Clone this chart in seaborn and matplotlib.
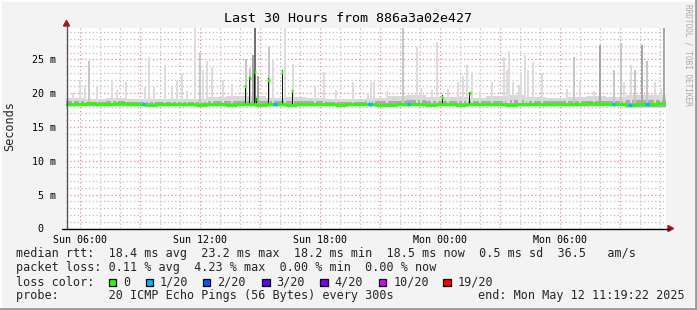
import numpy as np
import matplotlib
matplotlib.use("Agg")
import matplotlib.pyplot as plt
from matplotlib.lines import Line2D
from matplotlib.patches import Rectangle, Polygon
import seaborn as sns

sns.set_theme(style="white")
plt.rcParams['font.family'] = ['DejaVu Sans Mono']

# ---------------- data ----------------
t_start = 5 + 19/60 + 22/3600          # Sun 05:19:22 (hours since Sun 00:00)
t_end = t_start + 30
step_h = 1/12                          # 300 s

x_tick_hours = [6, 12, 18, 24, 30]
x_tick_labels = ["Sun 06:00", "Sun 12:00", "Sun 18:00", "Mon 00:00", "Mon 06:00"]
y_tick_vals = [0, 5, 10, 15, 20, 25]
y_tick_labels = ["0  ", "5 m", "10 m", "15 m", "20 m", "25 m"]

# median rtt (ms), half-hourly baseline
median_base = [18.4, 18.4, 18.5, 18.4, 18.4, 18.5, 18.4, 18.4, 18.3, 18.4,
               18.4, 18.4, 18.4, 18.3, 18.4, 18.4, 18.3, 18.4, 18.4, 18.3,
               18.4, 18.4, 18.3, 18.4, 18.4, 18.4, 18.4, 18.3, 18.4, 18.4,
               18.4, 18.3, 18.3, 18.4, 18.4, 18.4, 18.3, 18.4, 18.4, 18.3,
               18.4, 18.4, 18.4, 18.4, 18.3, 18.4, 18.4, 18.4, 18.4, 18.4,
               18.4, 18.4, 18.5, 18.4, 18.4, 18.4, 18.3, 18.4, 18.4, 18.5]
# smoke envelope of the baseline, hourly
smoke_lo = [17.9, 17.9, 17.9, 17.9, 17.9, 17.9, 17.9, 17.9, 17.9, 17.9,
            17.9, 17.9, 17.9, 17.9, 17.9, 17.9, 17.9, 17.9, 17.9, 17.9,
            17.9, 17.9, 17.9, 17.9, 17.9, 17.9, 17.9, 17.9, 17.8, 17.8]
smoke_hi = [19.3, 19.2, 19.3, 19.2, 19.2, 19.1, 19.2, 19.4, 19.6, 19.6,
            19.3, 19.4, 19.3, 19.2, 19.2, 19.3, 19.6, 19.8, 19.5, 19.4,
            19.3, 19.6, 19.7, 19.4, 19.3, 19.4, 19.6, 19.5, 19.8, 19.7]
smoke_mid_hi = [18.8, 18.7, 18.8, 18.7, 18.7, 18.7, 18.7, 18.8, 18.9, 18.9,
                18.8, 18.8, 18.8, 18.7, 18.7, 18.8, 18.9, 19.0, 18.9, 18.8,
                18.8, 18.9, 19.0, 18.8, 18.8, 18.8, 18.9, 18.9, 19.0, 19.0]

# outlier pings (smoke spikes): clock hour, top (ms), shade level
spike_hours = [5.68, 6.00, 6.25, 6.48, 6.85, 7.60, 7.85, 8.30, 9.25, 9.45,
               9.70, 10.25, 10.60, 10.85, 11.10, 11.35, 11.75, 12.00, 12.15, 12.35,
               12.60, 13.15, 13.60, 14.30, 14.50, 14.65, 14.75, 14.90, 15.45, 15.65,
               16.25, 16.65, 17.75, 18.20, 18.80, 19.65, 20.40, 20.55, 20.70, 21.35,
               22.15, 22.85, 23.05, 23.60, 23.85, 24.40, 24.90, 25.15, 25.35, 25.60,
               26.00, 26.60, 27.20, 27.35, 27.45, 27.65, 27.95, 28.05, 28.25, 28.40,
               28.65, 29.10, 30.35, 30.70, 31.00, 31.70, 32.00, 32.70, 33.05, 33.20,
               33.55, 33.75, 34.10, 34.35, 34.75, 35.05, 35.20]
spike_tops = [20.0, 21.9, 21.2, 24.7, 20.9, 22.0, 20.4, 21.6, 20.9, 25.3,
              20.9, 24.1, 20.9, 22.0, 22.8, 20.3, 29.6, 26.0, 23.5, 24.8,
              23.8, 21.9, 21.3, 25.0, 23.7, 25.7, 29.6, 22.5, 26.8, 25.0,
              29.6, 24.3, 20.9, 23.1, 20.5, 21.6, 20.0, 21.6, 21.6, 20.3,
              29.6, 26.8, 20.7, 20.5, 27.5, 20.6, 21.6, 22.6, 24.2, 23.2,
              20.3, 21.6, 25.3, 23.5, 26.3, 21.6, 21.2, 23.1, 25.7, 23.5,
              24.6, 23.0, 20.6, 25.3, 21.6, 20.3, 27.2, 23.4, 27.4, 21.6,
              24.1, 23.4, 27.2, 24.7, 21.6, 20.6, 29.6]
spike_shades = [0, 0, 0, 1, 0, 0, 0, 0, 0, 0,
                0, 0, 0, 0, 0, 0, 0, 1, 0, 0,
                0, 0, 0, 1, 1, 2, 3, 2, 1, 0,
                0, 0, 0, 0, 0, 0, 0, 0, 0, 0,
                1, 0, 0, 0, 0, 0, 0, 0, 0, 0,
                0, 0, 0, 0, 0, 0, 0, 0, 0, 0,
                0, 0, 0, 1, 0, 0, 2, 1, 1, 0,
                0, 1, 2, 1, 0, 0, 2]

# steps where most pings were high (dark smoke + raised median)
dark_hours = [14.30, 14.50, 14.75, 14.85, 15.45, 16.15, 16.65, 24.15, 25.50]
dark_tops = [21.0, 22.2, 23.1, 19.1, 22.0, 23.2, 20.3, 19.5, 20.0]

# steps with 1/20 packet loss
loss_hours = [9.20, 15.80, 20.55, 22.45, 32.70, 33.55, 34.35]

loss_colors = ["#26ff00", "#00b8ff", "#0059ff", "#5e00ff", "#7e00ff", "#dd00ff", "#ff0000"]
loss_labels = ["0", "1/20", "2/20", "3/20", "4/20", "10/20", "19/20"]

legend_line1 = "median rtt:  18.4 ms avg  23.2 ms max  18.2 ms min  18.5 ms now  0.5 ms sd  36.5   am/s"
legend_line2 = "packet loss: 0.11 % avg  4.23 % max  0.00 % min  0.00 % now"
legend_line3 = "loss color:"
legend_line4 = "probe:       20 ICMP Echo Pings (56 Bytes) every 300s"
legend_end = "end: Mon May 12 11:19:22 2025"
title = "Last 30 Hours from 886a3a02e427"

# ---------------- derived series ----------------
N = 360
times = t_start + (np.arange(N) + 0.5) * step_h
median_line = np.array([median_base[k // 6] for k in range(N)], dtype=float)
median = median_line.copy()
spike_idx = []
for h, v in zip(dark_hours, dark_tops):
    k = int(round((h - t_start) / step_h - 0.5))
    median[k] = v
    spike_idx.append(k)
hour_t = t_start + np.arange(31)
lo_step = np.array(smoke_lo + [smoke_lo[-1]])
hi_step = np.array(smoke_hi + [smoke_hi[-1]])
mid_step = np.array(smoke_mid_hi + [smoke_mid_hi[-1]])

# ---------------- figure ----------------
W, H = 697, 310
fig = plt.figure(figsize=(W/100, H/100), dpi=100)
fig.patch.set_facecolor("#f3f3f3")

x0, x1 = 66, 666
y0, y1 = 228.3, 28.3
ax = fig.add_axes([x0/W, 1 - y0/H, (x1-x0)/W, (y0-y1)/H])
ax.set_facecolor("white")
ax.set_xlim(t_start, t_end)
ax.set_ylim(0, 29.6)

# grid
major_x = np.arange(6, 36, 3)
ax.set_xticks(major_x)
ax.set_xticks(np.arange(6, 36, 1), minor=True)
ax.set_yticks(y_tick_vals)
ax.set_yticks(np.arange(0, 30, 1), minor=True)
ax.grid(which="minor", color="#bcbcbc", linestyle=(0, (1, 2)), linewidth=0.9, zorder=0)
ax.grid(which="major", color="#e58a8a", linestyle=(0, (1, 2)), linewidth=0.9, zorder=0)
ax.set_axisbelow(True)

shade_cols = ["#dcdcdc", "#c6c6c6", "#a6a6a6", "#707070"]

# baseline smoke
ax.fill_between(hour_t, lo_step, hi_step, step="post", color="#d8d8d8", linewidth=0, zorder=2)
ax.fill_between(hour_t, lo_step + 0.15, mid_step, step="post", color="#ababab", linewidth=0, zorder=2)

# spikes
for h, top, s in zip(spike_hours, spike_tops, spike_shades):
    ax.bar(h, top - 18.6, bottom=18.6, width=0.1, color=shade_cols[s], linewidth=0, zorder=3)
ax.bar(dark_hours, np.array(dark_tops) + 0.2 - 18.4, bottom=18.4, width=0.09,
       color="#151515", linewidth=0, zorder=4)

# median line (baseline) and raised-median marks
sns.lineplot(x=times, y=median_line, ax=ax, color=loss_colors[0], linewidth=2.0,
             drawstyle="steps-mid", zorder=5, legend=False)
for k in spike_idx:
    ax.hlines(median[k], times[k] - 0.05, times[k] + 0.05, color=loss_colors[0],
              linewidth=2.4, zorder=6)
for h in loss_hours:
    k = int(round((h - t_start) / step_h - 0.5))
    ax.hlines(median[k], times[k] - 0.09, times[k] + 0.09, color=loss_colors[1],
              linewidth=2.4, zorder=6)

# axes styling
for sp in ax.spines.values():
    sp.set_visible(False)
ax.set_xticklabels([x_tick_labels[x_tick_hours.index(v)] if v in x_tick_hours else ""
                    for v in major_x])
ax.set_yticklabels(y_tick_labels)
ax.tick_params(axis="both", which="major", length=3, width=0.8, color="#444444",
               labelsize=7.2, labelcolor="black")
ax.tick_params(axis="x", which="major", pad=3, direction="inout")
ax.tick_params(axis="y", which="major", pad=4, direction="out")
ax.tick_params(axis="both", which="minor", length=0)
ax.set_xlabel("")
ax.set_ylabel("")

# axis lines with arrows (figure pixel coords)
def fx(px): return px / W
def fy(py): return 1 - py / H
fig.add_artist(Line2D([fx(66.5), fx(66.5)], [fy(228.5), fy(25)], color="#505050", lw=1))
fig.add_artist(Line2D([fx(62), fx(669)], [fy(228.5), fy(228.5)], color="black", lw=1))
fig.add_artist(Polygon([[fx(63.5), fy(26)], [fx(69.5), fy(26)], [fx(66.5), fy(20.5)]],
                       closed=True, color="#a01818", transform=fig.transFigure))
fig.add_artist(Polygon([[fx(668), fy(225.5)], [fx(668), fy(231.5)], [fx(673.5), fy(228.5)]],
                       closed=True, color="#a01818", transform=fig.transFigure))

# texts
fig.text(fx(348), fy(19), title, ha="center", va="center", fontsize=9.6, color="black")
fig.text(fx(10), fy(126), "Seconds", rotation=90, ha="center", va="center", fontsize=8.6)
fig.text(fx(688), fy(4), "RRDTOOL / TOBI OETIKER", rotation=270, ha="center", va="top",
         fontsize=5.6, color="#aaaaaa")

fs = 8.45
fig.text(fx(16), fy(254), legend_line1, ha="left", va="center", fontsize=fs)
fig.text(fx(16), fy(268), legend_line2, ha="left", va="center", fontsize=fs)
fig.text(fx(16), fy(282), legend_line3, ha="left", va="center", fontsize=fs)
fig.text(fx(16), fy(296), legend_line4, ha="left", va="center", fontsize=fs)
fig.text(fx(478), fy(296), legend_end, ha="left", va="center", fontsize=fs)

sq_x = [108.7, 145.7, 202.7, 262, 320, 379, 443]
for sx, col, lab in zip(sq_x, loss_colors, loss_labels):
    fig.add_artist(Rectangle((fx(sx), fy(286)), 7.5/W, 7.5/H, facecolor=col,
                             edgecolor="black", linewidth=0.9, transform=fig.transFigure))
    fig.text(fx(sx + 14.3), fy(282), lab, ha="left", va="center", fontsize=fs)

# 3D frame
fig.add_artist(Line2D([fx(0.5), fx(696.5)], [fy(0.5), fy(0.5)], color="#fdfdfd", lw=1.5))
fig.add_artist(Line2D([fx(0.5), fx(0.5)], [fy(0.5), fy(309.5)], color="#fdfdfd", lw=1.5))
fig.add_artist(Line2D([fx(696), fx(696)], [fy(0), fy(310)], color="#9a9a9a", lw=2))
fig.add_artist(Line2D([fx(0), fx(697)], [fy(309), fy(309)], color="#9a9a9a", lw=2))

fig.savefig("out.png", dpi=100, facecolor=fig.get_facecolor())
